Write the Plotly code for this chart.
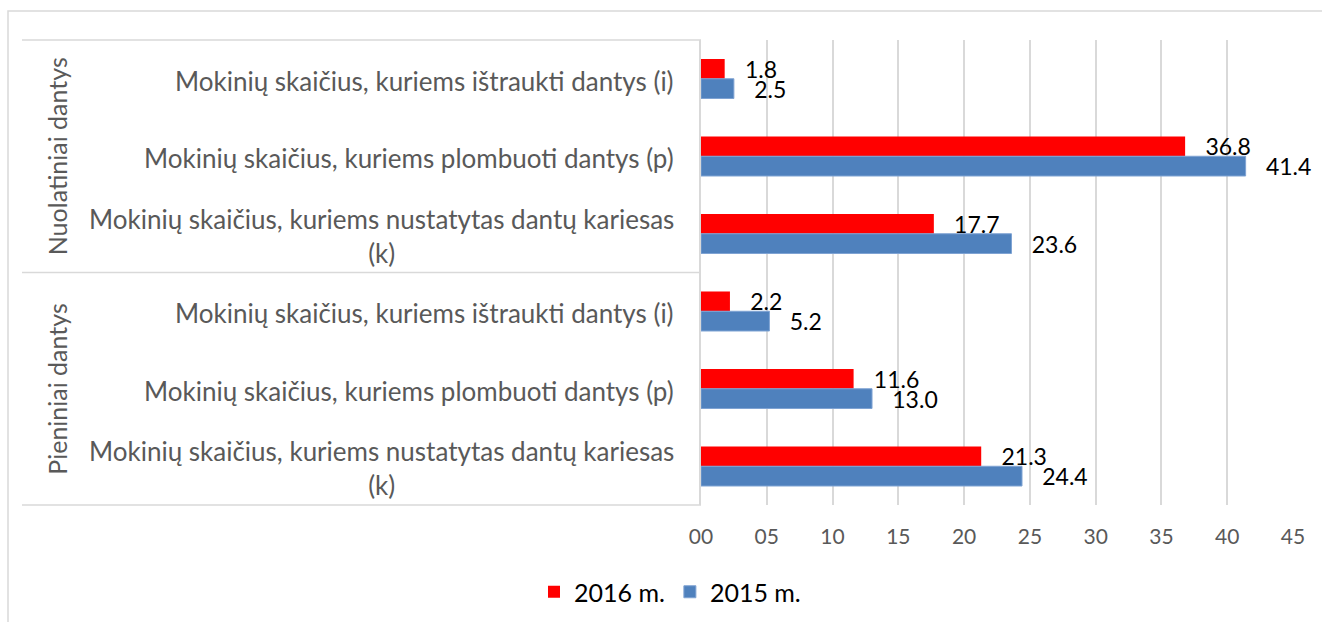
import plotly.graph_objects as go

# ---- data ----
groups = ["Nuolatiniai dantys", "Pieniniai dantys"]
categories = [
    "Mokinių skaičius, kuriems ištraukti dantys (i)",
    "Mokinių skaičius, kuriems plombuoti dantys (p)",
    "Mokinių skaičius, kuriems nustatytas dantų kariesas<br>(k)",
    "Mokinių skaičius, kuriems ištraukti dantys (i)",
    "Mokinių skaičius, kuriems plombuoti dantys (p)",
    "Mokinių skaičius, kuriems nustatytas dantų kariesas<br>(k)",
]
cat_group = [0, 0, 0, 1, 1, 1]
series_names = ["2016 m.", "2015 m."]
values_2016 = [1.8, 36.8, 17.7, 2.2, 11.6, 21.3]
values_2015 = [2.5, 41.4, 23.6, 5.2, 13.0, 24.4]
x_tickvals = [0, 5, 10, 15, 20, 25, 30, 35, 40, 45]
x_ticktext = ["00", "05", "10", "15", "20", "25", "30", "35", "40", "45"]

# ---- layout constants (pixels) ----
W, H = 1322, 622
ML, MR, MT, MB = 701, 29, 40, 117
PW = W - ML - MR
PH = H - MT - MB

FONT = "Lato, Roboto, sans-serif"
GRAY = "#595959"
LINE = "#d9d9d9"

pos = list(range(len(categories)))

fig = go.Figure()
fig.add_trace(go.Bar(
    name=series_names[0], y=pos, x=values_2016, orientation="h",
    marker=dict(color="#FF0000", line=dict(width=0)),
    texttemplate="\u2002\u2005%{x:.1f}", textposition="outside",
    textfont=dict(color="black", size=23, family=FONT),
    constraintext="none", cliponaxis=False, hoverinfo="x",
))
fig.add_trace(go.Bar(
    name=series_names[1], y=pos, x=values_2015, orientation="h",
    marker=dict(color="#4F81BD", line=dict(width=1, color="#7FA3D3")),
    texttemplate="\u2002\u2005%{x:.1f}", textposition="outside",
    textfont=dict(color="black", size=23, family=FONT),
    constraintext="none", cliponaxis=False, hoverinfo="x",
))


def px_x(p):
    return (p - ML) / PW


def px_y(p):
    return (H - MB - p) / PH


annotations = []
for i, c in enumerate(categories):
    annotations.append(dict(
        x=0, xref="paper", y=i, yref="y", xanchor="right", yanchor="middle",
        xshift=-25, yshift=-2, text=c, showarrow=False, align="center",
        font=dict(size=26, color=GRAY, family=FONT),
    ))
for g, name in enumerate(groups):
    idx = [i for i, cg in enumerate(cat_group) if cg == g]
    ymid = (idx[0] + idx[-1]) / 2
    annotations.append(dict(
        x=px_x(57), xref="paper", y=ymid, yref="y", xanchor="center",
        yanchor="middle", text=name, showarrow=False, textangle=-90,
        font=dict(size=25, color=GRAY, family=FONT),
    ))

shapes = [
    # outer chart border
    dict(type="rect", xref="paper", yref="paper", x0=px_x(8), x1=px_x(1340),
         y0=px_y(640), y1=px_y(11), line=dict(color=LINE, width=1.5),
         layer="below"),
    # table lines
    dict(type="line", xref="paper", yref="paper", x0=px_x(22), x1=0,
         y0=1, y1=1, line=dict(color=LINE, width=1.5)),
    dict(type="line", xref="paper", yref="paper", x0=px_x(22), x1=0,
         y0=0.5, y1=0.5, line=dict(color=LINE, width=1.5)),
    dict(type="line", xref="paper", yref="paper", x0=px_x(22), x1=0,
         y0=0, y1=0, line=dict(color=LINE, width=1.5)),
]

fig.update_layout(
    width=W, height=H,
    margin=dict(l=ML, r=MR, t=MT, b=MB, autoexpand=False),
    paper_bgcolor="white", plot_bgcolor="white",
    barmode="group", bargap=0.49, bargroupgap=0,
    font=dict(family=FONT, color=GRAY),
    xaxis=dict(range=[0, 45], tickvals=x_tickvals, ticktext=x_ticktext,
               showgrid=True, gridcolor=LINE, gridwidth=1.5, zeroline=False,
               showline=False, ticks="", ticklabelstandoff=17,
               tickfont=dict(size=21, color=GRAY, family=FONT)),
    yaxis=dict(range=[5.5, -0.5], tickvals=pos, showticklabels=False,
               showgrid=False, zeroline=False, showline=True,
               linecolor=LINE, linewidth=1.5, ticks=""),
    legend=dict(orientation="h", x=0.5 + 9 / W, xref="container",
                xanchor="center", y=(H - 592) / H, yref="container",
                yanchor="middle",
                font=dict(size=25, color="black", family=FONT),
                traceorder="normal"),
    annotations=annotations,
    shapes=shapes,
    showlegend=True,
)

fig.write_html("out.html", config={"displayModeBar": False},
               post_script="document.body.style.margin='0';"
                           "document.body.style.overflow='hidden';")
